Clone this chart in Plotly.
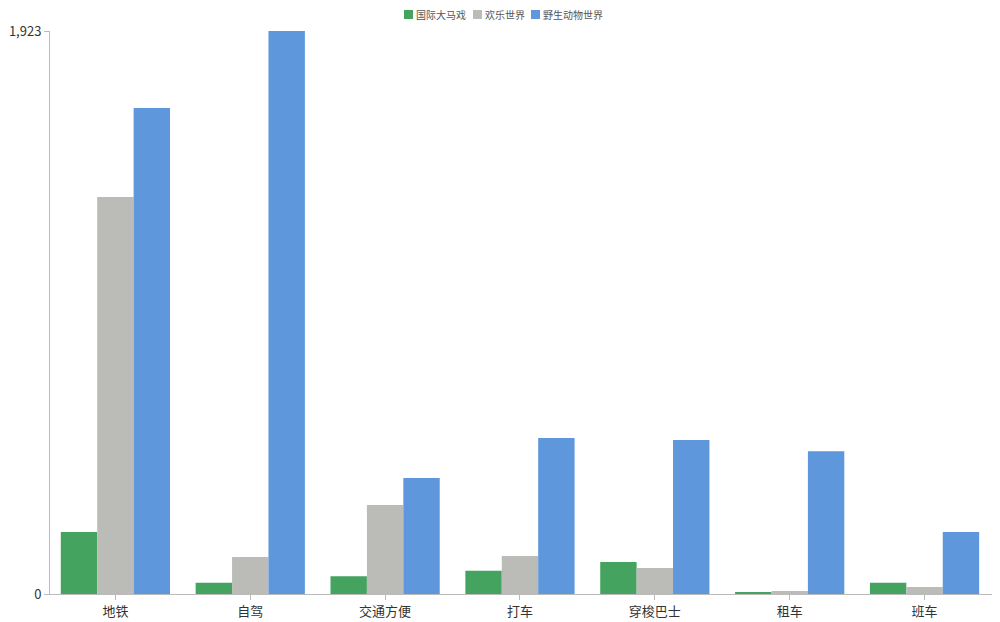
import plotly.graph_objects as go

categories = ["地铁", "自驾", "交通方便", "打车", "穿梭巴士", "租车", "班车"]
circus = [212, 38, 61, 79, 109, 7, 38]
happy_world = [1356, 126, 304, 130, 89, 10, 24]
wildlife = [1660, 1923, 396, 533, 526, 488, 212]
series_names = ["国际大马戏", "欢乐世界", "野生动物世界"]
colors = ["#45a360", "#bbbcb8", "#5e97dc"]
y_ticks = [0, 1923]

# page is rendered with an 8px body margin, so the figure is offset by 8px
OFF = 8
W, H = 992, 614
L, T = 50 - OFF, 31 - OFF
R = W - (994 - OFF)
B = H - (594 - OFF)
pw, ph = W - L - R, H - T - B

def px_x(x):
    return (x - OFF - L) / pw

def px_y(y):
    return (H - B - (y - OFF)) / ph

fig = go.Figure()
for name, vals, c in zip(series_names, [circus, happy_world, wildlife], colors):
    fig.add_trace(go.Bar(name=name, x=categories, y=vals, marker=dict(color=c, line=dict(width=0))))

# manual compact legend (page pixel positions from the reference)
legend_x = [404, 473, 531]
for name, c, lx in zip(series_names, colors, legend_x):
    fig.add_shape(type="rect", xref="paper", yref="paper",
                  x0=px_x(lx), x1=px_x(lx + 9), y0=px_y(19), y1=px_y(10),
                  fillcolor=c, line=dict(width=0), layer="above")
    fig.add_annotation(text=name, xref="paper", yref="paper", x=px_x(lx + 11), y=px_y(14.5),
                       xanchor="left", yanchor="middle", showarrow=False, borderpad=0,
                       font=dict(size=10, color="#555"))

fig.update_layout(
    width=W, height=H,
    barmode="group", bargap=0.19, bargroupgap=0,
    plot_bgcolor="white", paper_bgcolor="white",
    margin=dict(l=L, r=R, t=T, b=B, autoexpand=False),
    font=dict(family="Noto Sans CJK SC", size=12, color="#333"),
    showlegend=False,
)
fig.update_xaxes(range=[-0.485, len(categories) - 0.485],
                 showline=True, linecolor="#bbbbbb", linewidth=1, ticks="outside",
                 ticklen=5, tickcolor="#bbbbbb", showgrid=False, automargin=False,
                 tickfont=dict(size=13, color="#333"))
fig.update_yaxes(range=[0, 1923], tickvals=y_ticks, tickformat=",", showline=True,
                 linecolor="#bbbbbb", linewidth=1, ticks="outside", ticklen=5,
                 tickcolor="#bbbbbb", showgrid=False, zeroline=False, automargin=False,
                 tickfont=dict(size=13, color="#333"))

fig.write_html("out.html")
